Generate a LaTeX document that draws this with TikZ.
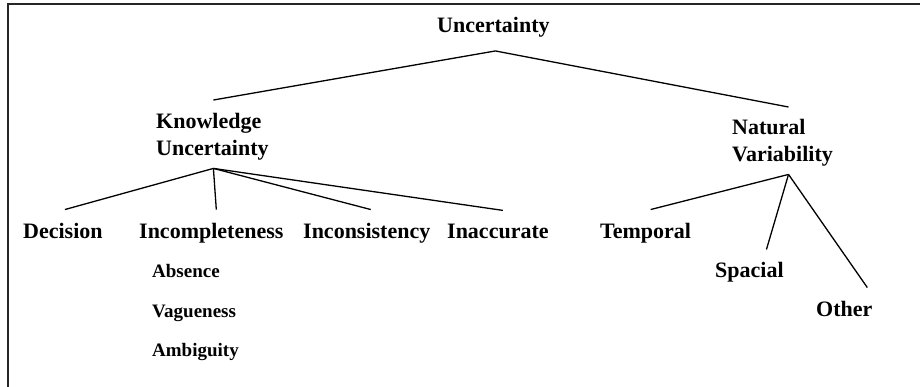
\documentclass[tikz,border=0pt]{standalone}
\usepackage{fontspec}
\setmainfont{Liberation Serif}
\usepackage{tikz}
\usetikzlibrary{calc, positioning}
\tikzset{
    bignode/.style = {draw=none, fill=none, rectangle, inner sep=0pt, align=left,
      font=\fontsize{22}{27}\selectfont\bfseries},
    leafnode/.style = {draw=none, fill=none, rectangle, inner sep=0pt, anchor=base west,
      font=\fontsize{22}{26}\selectfont\bfseries},
    subnode/.style = {draw=none, fill=none, rectangle, inner sep=0pt, anchor=base west,
      font=\fontsize{19}{22}\selectfont\bfseries},
    branch/.style = {black, line width=1.3pt},
    frameline/.style = {black!85, line width=1.7pt}
}

\begin{document}
\begin{tikzpicture}[x=1pt, y=-1pt]
\useasboundingbox[fill=white] (0,0) rectangle (920,386);
\draw[frameline] (8,392) -- (8,4) -- (926,4);

% root and the two main branches
\node[leafnode, name=unc] at (437,32) {Uncertainty};
\node[bignode, name=know, anchor=north west] at (156,113) {Knowledge\\Uncertainty};
\node[bignode, name=nat, anchor=north west] at (732,119) {Natural\\Variability};

% knowledge uncertainty
\node[leafnode, name=dec] at (23,238) {Decision};
\node[leafnode, name=incomp] at (139,238) {Incompleteness};
\node[leafnode, name=incons] at (303,238) {Inconsistency};
\node[leafnode, name=inacc] at (447,238) {Inaccurate};
\node[subnode, name=abs] at (152,277) {Absence};
\node[subnode, name=vag] at (152,317) {Vagueness};
\node[subnode, name=amb] at (152,356) {Ambiguity};

% natural variability
\node[leafnode, name=temp] at (600,238) {Temporal};
\node[leafnode, name=spa] at (715,277) {Spacial};
\node[leafnode, name=oth] at (816,316) {Other};

\coordinate (uncfoot) at ($(unc.south)+(2,14)$);
\coordinate (knowfoot) at ($(know.south)+(1,8)$);
\coordinate (natfoot) at ($(nat.south)+(6,8)$);

\draw[branch] ($(know.north)+(1,-13)$) -- (uncfoot) -- ($(nat.north)+(6,-12)$);

\draw[branch] (knowfoot) -- ($(dec.north)+(2,-13)$);
\draw[branch] (knowfoot) -- ($(incomp.north)+(5,-13)$);
\draw[branch] (knowfoot) -- ($(incons.north)+(4,-13)$);
\draw[branch] (knowfoot) -- ($(inacc.north)+(5,-13)$);

\draw[branch] (natfoot) -- ($(temp.north)+(5,-13)$);
\draw[branch] (natfoot) -- ($(spa.north)+(17,-12)$);
\draw[branch] (natfoot) -- ($(oth.north)+(23,-13)$);
\end{tikzpicture}
\end{document}
